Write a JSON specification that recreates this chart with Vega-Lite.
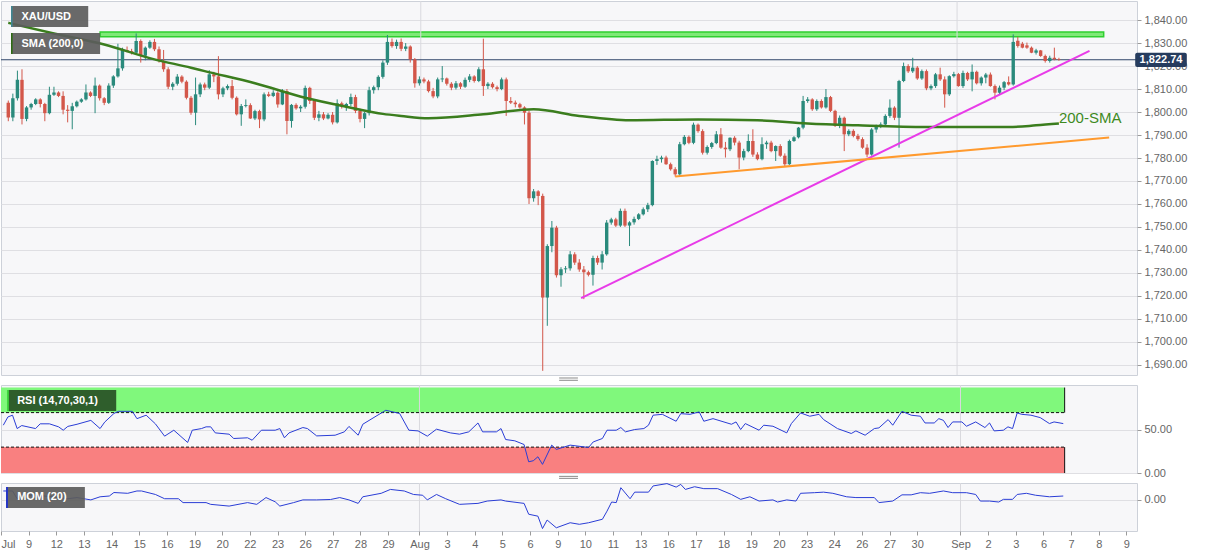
{
"$schema": "https://vega.github.io/schema/vega-lite/v6.json",
"background": "white",
"padding": 0,
"spacing": 10,
"bounds": "flush",
"config": {
  "font": "Liberation Sans",
  "view": {"fill": "#f7f7f9", "stroke": "#cdd1d9", "strokeWidth": 1},
  "axis": {"labelColor": "#666666", "labelFontSize": 11, "tickColor": "#9a9a9a", "tickSize": 4, "domain": false, "gridColor": "#dfdfe3", "labelPadding": 3}
},
"datasets": {
  "months": [{"k": 90.3, "m": "Aug"}, {"k": 207.7, "m": "Sep"}],
  "last": [{"price": 1822.74}],
  "zone": [{"from": 20.1, "to": 239.8, "top": 1834.8, "bottom": 1832.7}],
  "trend": [
    {"line": "steep", "k": 125.4, "p": 1719},
    {"line": "steep", "k": 236.7, "p": 1826.6},
    {"line": "gentle", "k": 146, "p": 1772},
    {"line": "gentle", "k": 241, "p": 1788.9}
  ],
  "sma": [
    {"k":0,"s":1838.8},{"k":10,"s":1834.2},{"k":21,"s":1829.4},{"k":32,"s":1822.9},{"k":40,"s":1819.3},{"k":43,"s":1817.8},{"k":54,"s":1812.5},{"k":65,"s":1806.2},{"k":75,"s":1801.9},{"k":82,"s":1799.2},{"k":86,"s":1798.3},{"k":92,"s":1797.3},{"k":104,"s":1799},{"k":115,"s":1801.2},{"k":125,"s":1798.3},{"k":136,"s":1796.4},{"k":151,"s":1796.8},{"k":164,"s":1796.4},{"k":175,"s":1795},{"k":186,"s":1794.2},{"k":201,"s":1793.5},{"k":219,"s":1793.5},{"k":225,"s":1794.2},{"k":230,"s":1795}
  ],
  "rsi": [
    {"k":0,"v":55.4},{"k":1,"v":65},{"k":2,"v":67},{"k":3,"v":51.5},{"k":4,"v":55},{"k":7,"v":51.5},{"k":8,"v":57},{"k":10,"v":57},{"k":12,"v":53.5},{"k":13,"v":49.6},{"k":14,"v":54},{"k":16,"v":56.5},{"k":19,"v":61},{"k":21,"v":51.5},{"k":22,"v":59},{"k":24,"v":69},{"k":25,"v":71.5},{"k":28,"v":71.5},{"k":29,"v":63},{"k":31,"v":67},{"k":33,"v":57},{"k":35,"v":42.7},{"k":37,"v":49.6},{"k":40,"v":35.4},{"k":41,"v":49.6},{"k":43,"v":51.5},{"k":44,"v":53.5},{"k":45,"v":53.5},{"k":46,"v":46.5},{"k":49,"v":45},{"k":50,"v":40},{"k":53,"v":40.8},{"k":54,"v":38},{"k":56,"v":49.6},{"k":59,"v":49.6},{"k":60,"v":51.5},{"k":61,"v":40.8},{"k":62,"v":46.5},{"k":65,"v":52.7},{"k":66,"v":51.5},{"k":68,"v":43},{"k":72,"v":43.8},{"k":74,"v":47.7},{"k":75,"v":54},{"k":77,"v":43.8},{"k":78,"v":56.5},{"k":80,"v":63},{"k":83,"v":72.7},{"k":86,"v":69},{"k":88,"v":49.6},{"k":90,"v":48.8},{"k":92,"v":42.7},{"k":94,"v":50.8},{"k":97,"v":46.5},{"k":99,"v":45},{"k":101,"v":47.7},{"k":103,"v":58},{"k":104,"v":47.7},{"k":107,"v":47.7},{"k":108,"v":51.5},{"k":109,"v":38.8},{"k":111,"v":37.3},{"k":113,"v":33},{"k":114,"v":13},{"k":115,"v":14.2},{"k":116,"v":18.8},{"k":117,"v":10},{"k":119,"v":32.3},{"k":120,"v":27.3},{"k":123,"v":32.3},{"k":127,"v":29.6},{"k":128,"v":36},{"k":130,"v":40},{"k":131,"v":49.6},{"k":133,"v":49.6},{"k":134,"v":52.7},{"k":135,"v":47.7},{"k":137,"v":50.4},{"k":139,"v":51.5},{"k":140,"v":55.4},{"k":141,"v":67},{"k":143,"v":68},{"k":146,"v":60},{"k":147,"v":68.8},{"k":149,"v":68},{"k":151,"v":70.8},{"k":152,"v":60},{"k":154,"v":63},{"k":158,"v":56.5},{"k":159,"v":59.2},{"k":160,"v":50.4},{"k":161,"v":57.3},{"k":164,"v":49.6},{"k":165,"v":55.4},{"k":167,"v":54.2},{"k":170,"v":46.5},{"k":171,"v":57.3},{"k":173,"v":69.6},{"k":175,"v":65.8},{"k":177,"v":68},{"k":178,"v":61.9},{"k":181,"v":51.5},{"k":184,"v":45.8},{"k":185,"v":48.8},{"k":187,"v":43.8},{"k":189,"v":51.5},{"k":190,"v":52.3},{"k":192,"v":61.9},{"k":193,"v":55.4},{"k":195,"v":71.5},{"k":197,"v":67},{"k":199,"v":65.8},{"k":200,"v":58},{"k":202,"v":58},{"k":203,"v":63},{"k":204,"v":61},{"k":205,"v":52.7},{"k":206,"v":59.2},{"k":208,"v":59.2},{"k":209,"v":54.2},{"k":211,"v":59.2},{"k":213,"v":52.7},{"k":214,"v":58},{"k":215,"v":48.8},{"k":217,"v":49.6},{"k":218,"v":53.5},{"k":219,"v":51.5},{"k":220,"v":69.6},{"k":221,"v":68},{"k":223,"v":67},{"k":225,"v":64.2},{"k":227,"v":57.3},{"k":228,"v":59.2},{"k":230,"v":57.3}
  ],
  "mom": [
    {"k":0,"v":22},{"k":2,"v":22},{"k":3,"v":2},{"k":4,"v":13},{"k":9,"v":9},{"k":14,"v":2},{"k":16,"v":5},{"k":19,"v":-1},{"k":21,"v":7},{"k":23,"v":9},{"k":24,"v":18},{"k":27,"v":16},{"k":29,"v":22},{"k":30,"v":22},{"k":33,"v":13},{"k":35,"v":2},{"k":38,"v":2},{"k":39,"v":-8},{"k":44,"v":-8},{"k":45,"v":-12.5},{"k":49,"v":-17},{"k":53,"v":-8},{"k":55,"v":-12.5},{"k":57,"v":5},{"k":59,"v":-6},{"k":60,"v":-17},{"k":63,"v":-8},{"k":65,"v":-1},{"k":68,"v":-1},{"k":71,"v":0},{"k":73,"v":5},{"k":75,"v":-1},{"k":77,"v":-10},{"k":78,"v":7},{"k":82,"v":16},{"k":84,"v":26},{"k":87,"v":22},{"k":89,"v":13},{"k":91,"v":11},{"k":92,"v":-1},{"k":94,"v":13},{"k":96,"v":2},{"k":99,"v":-12.5},{"k":103,"v":-10},{"k":105,"v":-4},{"k":108,"v":-1},{"k":109,"v":-4},{"k":113,"v":-10},{"k":114,"v":-38},{"k":116,"v":-43},{"k":117,"v":-75},{"k":118,"v":-53},{"k":120,"v":-73},{"k":123,"v":-60},{"k":125,"v":-64},{"k":127,"v":-60},{"k":130,"v":-51},{"k":131,"v":-30},{"k":132,"v":-6.5},{"k":133,"v":-8},{"k":134,"v":30.5},{"k":136,"v":2},{"k":137,"v":19},{"k":140,"v":19},{"k":141,"v":35},{"k":144,"v":41},{"k":146,"v":32},{"k":147,"v":39},{"k":148,"v":26},{"k":150,"v":33},{"k":152,"v":28},{"k":155,"v":28},{"k":158,"v":13},{"k":160,"v":0.4},{"k":162,"v":7},{"k":164,"v":-4},{"k":167,"v":-1},{"k":168,"v":-6.5},{"k":170,"v":-1},{"k":172,"v":-4},{"k":173,"v":16},{"k":176,"v":17.6},{"k":178,"v":19},{"k":180,"v":16},{"k":183,"v":7},{"k":185,"v":5},{"k":189,"v":5},{"k":190,"v":-8},{"k":193,"v":-4},{"k":195,"v":12},{"k":197,"v":12},{"k":199,"v":17.6},{"k":201,"v":16},{"k":204,"v":22},{"k":206,"v":17.6},{"k":209,"v":17.6},{"k":211,"v":13},{"k":212,"v":-4},{"k":214,"v":-4},{"k":216,"v":-6.5},{"k":217,"v":0.4},{"k":219,"v":0.4},{"k":220,"v":13},{"k":222,"v":16},{"k":224,"v":11},{"k":227,"v":7},{"k":230,"v":9}
  ],
  "candles": [
    {"k":0,"o":1804,"h":1805,"l":1796,"c":1797.6},{"k":1,"o":1797.6,"h":1808,"l":1796,"c":1806},{"k":2,"o":1806,"h":1818,"l":1805,"c":1814},{"k":3,"o":1814,"h":1818.6,"l":1794.6,"c":1797},{"k":4,"o":1797,"h":1802.6,"l":1796,"c":1802},{"k":5,"o":1802,"h":1804,"l":1801,"c":1803.5},{"k":6,"o":1803.5,"h":1806,"l":1803,"c":1805.5},{"k":7,"o":1805.5,"h":1806,"l":1802,"c":1803.5},{"k":8,"o":1803.5,"h":1804,"l":1796,"c":1799.5},{"k":9,"o":1799.5,"h":1811,"l":1799,"c":1807.5},
    {"k":10,"o":1807.5,"h":1811,"l":1807,"c":1808.5},{"k":11,"o":1808.5,"h":1809,"l":1806.5,"c":1807},{"k":12,"o":1807,"h":1809,"l":1799,"c":1801},{"k":13,"o":1801,"h":1803,"l":1795.5,"c":1800.5},{"k":14,"o":1800.5,"h":1804,"l":1792.5,"c":1802.5},{"k":15,"o":1802.5,"h":1805,"l":1802,"c":1804.5},{"k":16,"o":1804.5,"h":1806,"l":1804,"c":1805.5},{"k":17,"o":1805.5,"h":1812,"l":1805,"c":1808.5},{"k":18,"o":1808.5,"h":1809,"l":1806.5,"c":1807},{"k":19,"o":1807,"h":1815,"l":1799.5,"c":1811.5},
    {"k":20,"o":1811.5,"h":1812,"l":1805,"c":1806},{"k":21,"o":1806,"h":1806.5,"l":1803,"c":1804},{"k":22,"o":1804,"h":1812.5,"l":1803.5,"c":1811.5},{"k":23,"o":1811.5,"h":1816,"l":1810.5,"c":1815.5},{"k":24,"o":1815.5,"h":1829.7,"l":1815,"c":1819},{"k":25,"o":1819,"h":1828,"l":1818,"c":1827},{"k":26,"o":1827,"h":1828.5,"l":1826,"c":1826.5},{"k":27,"o":1826.5,"h":1827.5,"l":1825,"c":1825.8},{"k":28,"o":1825.8,"h":1834.2,"l":1825,"c":1830.9},{"k":29,"o":1830.9,"h":1831.6,"l":1821.5,"c":1824.5},
    {"k":30,"o":1824.5,"h":1828.5,"l":1822.5,"c":1828},{"k":31,"o":1828,"h":1831.2,"l":1827.5,"c":1830.5},{"k":32,"o":1830.5,"h":1831.8,"l":1826.5,"c":1827.3},{"k":33,"o":1827.3,"h":1828.5,"l":1821.5,"c":1822.2},{"k":34,"o":1822.2,"h":1827,"l":1817.5,"c":1818.6},{"k":35,"o":1818.6,"h":1819.5,"l":1810,"c":1811},{"k":36,"o":1811,"h":1813,"l":1809.5,"c":1812.3},{"k":37,"o":1812.3,"h":1816.5,"l":1811.5,"c":1815.4},{"k":38,"o":1815.4,"h":1816,"l":1812.5,"c":1813.2},{"k":39,"o":1813.2,"h":1813.8,"l":1805.5,"c":1806.2},
    {"k":40,"o":1806.2,"h":1807,"l":1798.8,"c":1799.7},{"k":41,"o":1799.7,"h":1815,"l":1794.3,"c":1807.7},{"k":42,"o":1807.7,"h":1812.8,"l":1806.5,"c":1812},{"k":43,"o":1812,"h":1812.8,"l":1809.5,"c":1810.6},{"k":44,"o":1810.6,"h":1818.2,"l":1810,"c":1816.4},{"k":45,"o":1816.4,"h":1817.5,"l":1813,"c":1815.5},{"k":46,"o":1815.5,"h":1824.3,"l":1805.5,"c":1807.7},{"k":47,"o":1807.7,"h":1811,"l":1806.5,"c":1810.3},{"k":48,"o":1810.3,"h":1812,"l":1809.5,"c":1811.3},{"k":49,"o":1811.3,"h":1814,"l":1805.5,"c":1806.2},
    {"k":50,"o":1806.2,"h":1806.8,"l":1798.5,"c":1799},{"k":51,"o":1799,"h":1803.5,"l":1794,"c":1802.6},{"k":52,"o":1802.6,"h":1805.5,"l":1802,"c":1803},{"k":53,"o":1803,"h":1803.8,"l":1797,"c":1797.2},{"k":54,"o":1797.2,"h":1801,"l":1796.5,"c":1800.4},{"k":55,"o":1800.4,"h":1801,"l":1793,"c":1796.8},{"k":56,"o":1796.8,"h":1808.5,"l":1796,"c":1807.7},{"k":57,"o":1807.7,"h":1808.8,"l":1806.5,"c":1807},{"k":58,"o":1807,"h":1809.5,"l":1806.5,"c":1808.4},{"k":59,"o":1808.4,"h":1809,"l":1801.9,"c":1803.3},
    {"k":60,"o":1803.3,"h":1810,"l":1803,"c":1809.1},{"k":61,"o":1809.1,"h":1810,"l":1790.3,"c":1796.1},{"k":62,"o":1796.1,"h":1803.5,"l":1793.2,"c":1803.1},{"k":63,"o":1803.1,"h":1803.8,"l":1801,"c":1801.6},{"k":64,"o":1801.6,"h":1803,"l":1800,"c":1802.3},{"k":65,"o":1802.3,"h":1811.5,"l":1801.5,"c":1810.5},{"k":66,"o":1810.5,"h":1811,"l":1803.5,"c":1804.8},{"k":67,"o":1804.8,"h":1805.5,"l":1796.5,"c":1797.5},{"k":68,"o":1797.5,"h":1800.5,"l":1796,"c":1799},{"k":69,"o":1799,"h":1800,"l":1796.5,"c":1797.2},
    {"k":70,"o":1797.2,"h":1799.5,"l":1796.8,"c":1798.8},{"k":71,"o":1798.8,"h":1800,"l":1794.6,"c":1795.5},{"k":72,"o":1795.5,"h":1805.5,"l":1795,"c":1803.8},{"k":73,"o":1803.8,"h":1804.5,"l":1801.5,"c":1802.5},{"k":74,"o":1802.5,"h":1804,"l":1800.5,"c":1803.5},{"k":75,"o":1803.5,"h":1808,"l":1802.5,"c":1806.5},{"k":76,"o":1806.5,"h":1807.5,"l":1799.5,"c":1800.5},{"k":77,"o":1800.5,"h":1801.5,"l":1795.5,"c":1797},{"k":78,"o":1797,"h":1800,"l":1793,"c":1799.5},{"k":79,"o":1799.5,"h":1811,"l":1798.5,"c":1809.5},
    {"k":80,"o":1809.5,"h":1811.5,"l":1808,"c":1810.8},{"k":81,"o":1810.8,"h":1816,"l":1809.5,"c":1815.3},{"k":82,"o":1815.3,"h":1822.5,"l":1814.5,"c":1821.5},{"k":83,"o":1821.5,"h":1833.5,"l":1820.5,"c":1830.5},{"k":84,"o":1830.5,"h":1832,"l":1828,"c":1828.7},{"k":85,"o":1828.7,"h":1831.5,"l":1827.5,"c":1830.5},{"k":86,"o":1830.5,"h":1832,"l":1826.5,"c":1827.5},{"k":87,"o":1827.5,"h":1830,"l":1826.5,"c":1828.5},{"k":88,"o":1828.5,"h":1829,"l":1821.5,"c":1822.9},{"k":89,"o":1822.9,"h":1823.5,"l":1810.6,"c":1812.5},
    {"k":90,"o":1812.5,"h":1815.5,"l":1811.5,"c":1814.2},{"k":91,"o":1814.2,"h":1815,"l":1812.5,"c":1813.3},{"k":92,"o":1813.3,"h":1814,"l":1808.5,"c":1809.1},{"k":93,"o":1809.1,"h":1810.5,"l":1806,"c":1806.8},{"k":94,"o":1806.8,"h":1815,"l":1806,"c":1814.2},{"k":95,"o":1814.2,"h":1820,"l":1813,"c":1814.6},{"k":96,"o":1814.6,"h":1815,"l":1811.5,"c":1812.3},{"k":97,"o":1812.3,"h":1813,"l":1809.5,"c":1810.6},{"k":98,"o":1810.6,"h":1813.5,"l":1809.8,"c":1812.5},{"k":99,"o":1812.5,"h":1813,"l":1810,"c":1811},
    {"k":100,"o":1811,"h":1815,"l":1810.5,"c":1814},{"k":101,"o":1814,"h":1816.5,"l":1813,"c":1815.5},{"k":102,"o":1815.5,"h":1816,"l":1812.8,"c":1813.5},{"k":103,"o":1813.5,"h":1819.5,"l":1813,"c":1818.6},{"k":104,"o":1818.6,"h":1831.9,"l":1807,"c":1811.3},{"k":105,"o":1811.3,"h":1813,"l":1810,"c":1812.3},{"k":106,"o":1812.3,"h":1813,"l":1810.2,"c":1810.8},{"k":107,"o":1810.8,"h":1811.5,"l":1809,"c":1810},{"k":108,"o":1810,"h":1815,"l":1809.5,"c":1814.2},{"k":109,"o":1814.2,"h":1815,"l":1798.3,"c":1804.8},
    {"k":110,"o":1804.8,"h":1806.5,"l":1803.5,"c":1804.1},{"k":111,"o":1804.1,"h":1805,"l":1802,"c":1803.4},{"k":112,"o":1803.4,"h":1804,"l":1801.5,"c":1802},{"k":113,"o":1802,"h":1802.5,"l":1794.6,"c":1799.7},{"k":114,"o":1799.7,"h":1800.5,"l":1760,"c":1762.5},{"k":115,"o":1762.5,"h":1766.5,"l":1761,"c":1765.5},{"k":116,"o":1765.5,"h":1766,"l":1759.5,"c":1763.5},{"k":117,"o":1763.5,"h":1764.5,"l":1687.4,"c":1719.3},{"k":118,"o":1719.3,"h":1742.5,"l":1707,"c":1741.7},{"k":119,"o":1741.7,"h":1752.6,"l":1739,"c":1749.7},
    {"k":120,"o":1749.7,"h":1750.5,"l":1728,"c":1729},{"k":121,"o":1729,"h":1732.5,"l":1724,"c":1731.6},{"k":122,"o":1731.6,"h":1733,"l":1730,"c":1732},{"k":123,"o":1732,"h":1739.5,"l":1731,"c":1738.1},{"k":124,"o":1738.1,"h":1739,"l":1733.5,"c":1734.5},{"k":125,"o":1734.5,"h":1736,"l":1730.5,"c":1731.5},{"k":126,"o":1731.5,"h":1733,"l":1718.6,"c":1730.3},{"k":127,"o":1730.3,"h":1731,"l":1728.5,"c":1729.2},{"k":128,"o":1729.2,"h":1737.5,"l":1724.5,"c":1736.5},{"k":129,"o":1736.5,"h":1737.5,"l":1733.5,"c":1734.5},
    {"k":130,"o":1734.5,"h":1739.5,"l":1731.5,"c":1738.1},{"k":131,"o":1738.1,"h":1753,"l":1737.5,"c":1751.9},{"k":132,"o":1751.9,"h":1754,"l":1751,"c":1753.3},{"k":133,"o":1753.3,"h":1754,"l":1750,"c":1750.6},{"k":134,"o":1750.6,"h":1758,"l":1750,"c":1757},{"k":135,"o":1757,"h":1758,"l":1750,"c":1750.6},{"k":136,"o":1750.6,"h":1752.5,"l":1741.7,"c":1752},{"k":137,"o":1752,"h":1754.5,"l":1751,"c":1753.5},{"k":138,"o":1753.5,"h":1756,"l":1753,"c":1755.5},{"k":139,"o":1755.5,"h":1758.5,"l":1755,"c":1757.7},
    {"k":140,"o":1757.7,"h":1760.5,"l":1756.5,"c":1759.5},{"k":141,"o":1759.5,"h":1779,"l":1759,"c":1778.7},{"k":142,"o":1778.7,"h":1781,"l":1777,"c":1779.5},{"k":143,"o":1779.5,"h":1781,"l":1778,"c":1780.2},{"k":144,"o":1780.2,"h":1781,"l":1777,"c":1777.3},{"k":145,"o":1777.3,"h":1778,"l":1774.5,"c":1775.1},{"k":146,"o":1775.1,"h":1776,"l":1771.9,"c":1772.9},{"k":147,"o":1772.9,"h":1787,"l":1772,"c":1786},{"k":148,"o":1786,"h":1790,"l":1785.5,"c":1789.2},{"k":149,"o":1789.2,"h":1789.8,"l":1786,"c":1786.6},
    {"k":150,"o":1786.6,"h":1795.4,"l":1786,"c":1794.5},{"k":151,"o":1794.5,"h":1795,"l":1791,"c":1791.7},{"k":152,"o":1791.7,"h":1792.5,"l":1781.5,"c":1782.3},{"k":153,"o":1782.3,"h":1785.5,"l":1781.5,"c":1784.8},{"k":154,"o":1784.8,"h":1787,"l":1784,"c":1786.5},{"k":155,"o":1786.5,"h":1791.7,"l":1786,"c":1790.3},{"k":156,"o":1790.3,"h":1793,"l":1784,"c":1784.5},{"k":157,"o":1784.5,"h":1787,"l":1780.2,"c":1783.8},{"k":158,"o":1783.8,"h":1789,"l":1783,"c":1788.8},{"k":159,"o":1788.8,"h":1789.5,"l":1785.5,"c":1786.7},
    {"k":160,"o":1786.7,"h":1787.5,"l":1775.1,"c":1780.2},{"k":161,"o":1780.2,"h":1784,"l":1779,"c":1783},{"k":162,"o":1783,"h":1790.3,"l":1782.5,"c":1787.4},{"k":163,"o":1787.4,"h":1792.5,"l":1780.5,"c":1781.5},{"k":164,"o":1781.5,"h":1782.5,"l":1779,"c":1779.5},{"k":165,"o":1779.5,"h":1789,"l":1779,"c":1786},{"k":166,"o":1786,"h":1787.5,"l":1784,"c":1786.7},{"k":167,"o":1786.7,"h":1787.5,"l":1782.5,"c":1783},{"k":168,"o":1783,"h":1785.5,"l":1778.7,"c":1785.2},{"k":169,"o":1785.2,"h":1786,"l":1780.5,"c":1781},
    {"k":170,"o":1781,"h":1782,"l":1776.2,"c":1777.3},{"k":171,"o":1777.3,"h":1788,"l":1777,"c":1787.4},{"k":172,"o":1787.4,"h":1789.5,"l":1787,"c":1789},{"k":173,"o":1789,"h":1793.5,"l":1788.5,"c":1793.2},{"k":174,"o":1793.2,"h":1807,"l":1792.5,"c":1804.8},{"k":175,"o":1804.8,"h":1806.5,"l":1804,"c":1805.5},{"k":176,"o":1805.5,"h":1806,"l":1800.5,"c":1801.2},{"k":177,"o":1801.2,"h":1805.5,"l":1800.5,"c":1804.8},{"k":178,"o":1804.8,"h":1805.5,"l":1801.5,"c":1802},{"k":179,"o":1802,"h":1810,"l":1801.5,"c":1806.5},
    {"k":180,"o":1806.5,"h":1807,"l":1800,"c":1800.5},{"k":181,"o":1800.5,"h":1801,"l":1793.5,"c":1794},{"k":182,"o":1794,"h":1798.5,"l":1793,"c":1797.5},{"k":183,"o":1797.5,"h":1798,"l":1783,"c":1790.3},{"k":184,"o":1790.3,"h":1792.5,"l":1789.5,"c":1791.8},{"k":185,"o":1791.8,"h":1792.5,"l":1789,"c":1789.6},{"k":186,"o":1789.6,"h":1790.5,"l":1787.5,"c":1788.2},{"k":187,"o":1788.2,"h":1789,"l":1784,"c":1784.5},{"k":188,"o":1784.5,"h":1786,"l":1780.3,"c":1781.5},{"k":189,"o":1781.5,"h":1793,"l":1781,"c":1792.4},
    {"k":190,"o":1792.4,"h":1794.5,"l":1791,"c":1793.9},{"k":191,"o":1793.9,"h":1795.5,"l":1793,"c":1794.6},{"k":192,"o":1794.6,"h":1799,"l":1794,"c":1798.3},{"k":193,"o":1798.3,"h":1805.5,"l":1797.5,"c":1801.9},{"k":194,"o":1801.9,"h":1802.5,"l":1796.5,"c":1797.5},{"k":195,"o":1797.5,"h":1814,"l":1784.5,"c":1813.5},{"k":196,"o":1813.5,"h":1821.5,"l":1813,"c":1820},{"k":197,"o":1820,"h":1820.8,"l":1817,"c":1817.7},{"k":198,"o":1817.7,"h":1823.6,"l":1817,"c":1819.3},{"k":199,"o":1819.3,"h":1820,"l":1814,"c":1814.6},
    {"k":200,"o":1814.6,"h":1818.5,"l":1814,"c":1817.8},{"k":201,"o":1817.8,"h":1818.5,"l":1809.5,"c":1810.3},{"k":202,"o":1810.3,"h":1812,"l":1809.5,"c":1811.3},{"k":203,"o":1811.3,"h":1817,"l":1810.5,"c":1816.4},{"k":204,"o":1816.4,"h":1819.3,"l":1813.5,"c":1814.2},{"k":205,"o":1814.2,"h":1815.5,"l":1801.9,"c":1807.7},{"k":206,"o":1807.7,"h":1816,"l":1807,"c":1815.6},{"k":207,"o":1815.6,"h":1817.5,"l":1815,"c":1816.5},{"k":208,"o":1816.5,"h":1817,"l":1811,"c":1811.3},{"k":209,"o":1811.3,"h":1818,"l":1810.5,"c":1817},
    {"k":210,"o":1817,"h":1817.5,"l":1813.5,"c":1814.2},{"k":211,"o":1814.2,"h":1820.7,"l":1809,"c":1817.5},{"k":212,"o":1817.5,"h":1818,"l":1812,"c":1812.5},{"k":213,"o":1812.5,"h":1815.5,"l":1811.5,"c":1815},{"k":214,"o":1815,"h":1817,"l":1812.5,"c":1816.3},{"k":215,"o":1816.3,"h":1817.2,"l":1811,"c":1811.3},{"k":216,"o":1811.3,"h":1812,"l":1805.5,"c":1808.4},{"k":217,"o":1808.4,"h":1811.5,"l":1807.5,"c":1810.6},{"k":218,"o":1810.6,"h":1813.5,"l":1809.5,"c":1813},{"k":219,"o":1813,"h":1815.5,"l":1811.5,"c":1812},
    {"k":220,"o":1812,"h":1833.8,"l":1811.5,"c":1830.5},{"k":221,"o":1831,"h":1832.7,"l":1828,"c":1828.7},{"k":222,"o":1829.7,"h":1830.5,"l":1827.7,"c":1828},{"k":223,"o":1829,"h":1830.2,"l":1827.5,"c":1828},{"k":224,"o":1828,"h":1828.5,"l":1825.6,"c":1825.8},{"k":225,"o":1825.8,"h":1827.5,"l":1825,"c":1826.8},{"k":226,"o":1826.8,"h":1827,"l":1824,"c":1824.4},{"k":227,"o":1824.4,"h":1825,"l":1821.5,"c":1822.2},{"k":228,"o":1822.2,"h":1824.5,"l":1821.5,"c":1823.6},{"k":229,"o":1823.6,"h":1828,"l":1822.5,"c":1823},
    {"k":230,"o":1823,"h":1823.6,"l":1822.3,"c":1822.74}
  ]
},
"vconcat": [
  {
    "width": 1136, "height": 374,
    "layer": [
      {"data": {"name": "zone"}, "mark": {"type": "rect", "fill": "#7fe977", "stroke": "#2fcf2f", "strokeWidth": 1.5},
       "encoding": {"x": {"field": "from", "type": "quantitative", "scale": {"domain": [-0.5, 246]}, "axis": null}, "x2": {"field": "to"},
                    "y": {"field": "top", "type": "quantitative", "scale": {"domain": [1685.6, 1848.3]},
                          "axis": {"orient": "right", "title": null, "values": [1690,1700,1710,1720,1730,1740,1750,1760,1770,1780,1790,1800,1810,1820,1830,1840], "tickCount": 100, "labelOverlap": false, "format": ",.2f", "grid": true}},
                    "y2": {"field": "bottom"}}},
      {"data": {"name": "months"}, "mark": {"type": "rule", "color": "#d9d9de", "strokeWidth": 1},
       "encoding": {"x": {"field": "k", "type": "quantitative", "scale": {"domain": [-0.5, 246]}, "axis": null}}},
      {"data": {"name": "last"}, "mark": {"type": "rule", "color": "#2f4568", "strokeWidth": 1},
       "encoding": {"y": {"field": "price", "type": "quantitative", "scale": {"domain": [1685.6, 1848.3]}, "title": null}}},
      {"data": {"name": "candles"}, "mark": {"type": "rule", "strokeWidth": 1},
       "encoding": {"x": {"field": "k", "type": "quantitative", "scale": {"domain": [-0.5, 246]}, "axis": null},
                    "y": {"field": "l", "type": "quantitative", "scale": {"domain": [1685.6, 1848.3]}, "title": null},
                    "y2": {"field": "h"},
                    "color": {"condition": {"test": "datum.c >= datum.o", "value": "#2a8a7c"}, "value": "#d3574a"}}},
      {"data": {"name": "candles"}, "mark": {"type": "bar", "width": 3.4},
       "encoding": {"x": {"field": "k", "type": "quantitative", "scale": {"domain": [-0.5, 246]}, "axis": null},
                    "y": {"field": "o", "type": "quantitative", "scale": {"domain": [1685.6, 1848.3]}, "title": null},
                    "y2": {"field": "c"},
                    "color": {"condition": {"test": "datum.c >= datum.o", "value": "#2a8a7c"}, "value": "#d3574a"}}},
      {"data": {"name": "sma"}, "mark": {"type": "line", "color": "#3b7d1e", "strokeWidth": 2.5, "interpolate": "monotone"},
       "encoding": {"x": {"field": "k", "type": "quantitative", "scale": {"domain": [-0.5, 246]}, "axis": null},
                    "y": {"field": "s", "type": "quantitative", "scale": {"domain": [1685.6, 1848.3]}, "title": null}}},
      {"data": {"name": "trend"}, "mark": {"type": "line", "strokeWidth": 2},
       "encoding": {"x": {"field": "k", "type": "quantitative", "scale": {"domain": [-0.5, 246]}, "axis": null},
                    "y": {"field": "p", "type": "quantitative", "scale": {"domain": [1685.6, 1848.3]}, "title": null},
                    "color": {"field": "line", "type": "nominal", "scale": {"domain": ["steep", "gentle"], "range": ["#e83be8", "#ff9a2e"]}, "legend": null}}},
      {"data": {"values": [{}]}, "mark": {"type": "text", "color": "#3e8a1e", "fontSize": 15, "align": "left", "baseline": "middle"},
       "encoding": {"x": {"datum": 230, "type": "quantitative", "scale": {"domain": [-0.5, 246]}, "axis": null},
                    "y": {"datum": 1797.2, "type": "quantitative", "scale": {"domain": [1685.6, 1848.3]}, "title": null},
                    "text": {"value": "200-SMA"}}},
      {"data": {"values": [{}]}, "mark": {"type": "rect", "fill": "#5c5c5c", "opacity": 0.92},
       "encoding": {"x": {"datum": 0.6, "type": "quantitative", "scale": {"domain": [-0.5, 246]}, "axis": null}, "x2": {"datum": 17.5},
                    "y": {"datum": 1846.1, "type": "quantitative", "scale": {"domain": [1685.6, 1848.3]}, "title": null}, "y2": {"datum": 1837}}},
      {"data": {"values": [{}]}, "mark": {"type": "rect", "fill": "#3f8793"},
       "encoding": {"x": {"datum": 0.6, "type": "quantitative", "scale": {"domain": [-0.5, 246]}, "axis": null}, "x2": {"datum": 0.95},
                    "y": {"datum": 1846.1, "type": "quantitative", "scale": {"domain": [1685.6, 1848.3]}, "title": null}, "y2": {"datum": 1837}}},
      {"data": {"values": [{}]}, "mark": {"type": "text", "color": "white", "fontSize": 11, "fontWeight": "bold", "align": "left", "baseline": "middle"},
       "encoding": {"x": {"datum": 2.9, "type": "quantitative", "scale": {"domain": [-0.5, 246]}, "axis": null},
                    "y": {"datum": 1841.5, "type": "quantitative", "scale": {"domain": [1685.6, 1848.3]}, "title": null},
                    "text": {"value": "XAU/USD"}}},
      {"data": {"values": [{}]}, "mark": {"type": "rect", "fill": "#5c5c5c", "opacity": 0.92},
       "encoding": {"x": {"datum": 0.6, "type": "quantitative", "scale": {"domain": [-0.5, 246]}, "axis": null}, "x2": {"datum": 20.1},
                    "y": {"datum": 1834.35, "type": "quantitative", "scale": {"domain": [1685.6, 1848.3]}, "title": null}, "y2": {"datum": 1825.2}}},
      {"data": {"values": [{}]}, "mark": {"type": "rect", "fill": "#2e6b14"},
       "encoding": {"x": {"datum": 0.6, "type": "quantitative", "scale": {"domain": [-0.5, 246]}, "axis": null}, "x2": {"datum": 0.95},
                    "y": {"datum": 1834.35, "type": "quantitative", "scale": {"domain": [1685.6, 1848.3]}, "title": null}, "y2": {"datum": 1825.2}}},
      {"data": {"values": [{}]}, "mark": {"type": "text", "color": "white", "fontSize": 11, "fontWeight": "bold", "align": "left", "baseline": "middle"},
       "encoding": {"x": {"datum": 2.9, "type": "quantitative", "scale": {"domain": [-0.5, 246]}, "axis": null},
                    "y": {"datum": 1829.8, "type": "quantitative", "scale": {"domain": [1685.6, 1848.3]}, "title": null},
                    "text": {"value": "SMA (200,0)"}}},
      {"data": {"values": [{"ly": 1684.3}, {"ly": 1683.3}]}, "mark": {"type": "rule", "color": "#8a8a8a", "strokeWidth": 1},
       "encoding": {"x": {"datum": 120.6, "type": "quantitative", "scale": {"domain": [-0.5, 246]}, "axis": null}, "x2": {"datum": 124.7},
                    "y": {"field": "ly", "type": "quantitative", "scale": {"domain": [1685.6, 1848.3]}, "title": null}}},
      {"data": {"name": "last"}, "mark": {"type": "rect", "fill": "#263c5e", "cornerRadius": 2},
       "encoding": {"x": {"datum": 246.7, "type": "quantitative", "scale": {"domain": [-0.5, 246]}, "axis": null}, "x2": {"datum": 258},
                    "y": {"datum": 1825.8, "type": "quantitative", "scale": {"domain": [1685.6, 1848.3]}, "title": null}, "y2": {"datum": 1819.6}}},
      {"data": {"name": "last"}, "mark": {"type": "text", "color": "white", "fontSize": 11, "fontWeight": "bold", "align": "center", "baseline": "middle"},
       "encoding": {"x": {"datum": 252.35, "type": "quantitative", "scale": {"domain": [-0.5, 246]}, "axis": null},
                    "y": {"field": "price", "type": "quantitative", "scale": {"domain": [1685.6, 1848.3]}, "title": null},
                    "text": {"field": "price", "type": "quantitative", "format": ",.2f"}}}
    ]
  },
  {
    "width": 1136, "height": 88,
    "layer": [
      {"data": {"values": [{}]}, "mark": {"type": "rect", "fill": "#80f87c"},
       "encoding": {"x": {"datum": -0.5, "type": "quantitative", "scale": {"domain": [-0.5, 246]}, "axis": null}, "x2": {"datum": 230.3},
                    "y": {"datum": 70, "type": "quantitative", "scale": {"domain": [0, 102]},
                          "axis": {"orient": "right", "title": null, "values": [0, 50], "tickCount": 100, "format": ".2f", "grid": true}}, "y2": {"datum": 99}}},
      {"data": {"name": "months"}, "mark": {"type": "rule", "color": "#d9d9de", "strokeWidth": 1},
       "encoding": {"x": {"field": "k", "type": "quantitative", "scale": {"domain": [-0.5, 246]}, "axis": null}}},
      {"data": {"values": [{}]}, "mark": {"type": "rect", "fill": "#f98080"},
       "encoding": {"x": {"datum": -0.5, "type": "quantitative", "scale": {"domain": [-0.5, 246]}, "axis": null}, "x2": {"datum": 230.3},
                    "y": {"datum": 0, "type": "quantitative", "scale": {"domain": [0, 102]}, "title": null}, "y2": {"datum": 30}}},
      {"data": {"values": [{"lvl": 70}, {"lvl": 30}]}, "mark": {"type": "rule", "color": "#111111", "strokeWidth": 1, "strokeDash": [3, 2]},
       "encoding": {"x": {"datum": -0.5, "type": "quantitative", "scale": {"domain": [-0.5, 246]}, "axis": null}, "x2": {"datum": 230.3},
                    "y": {"field": "lvl", "type": "quantitative", "scale": {"domain": [0, 102]}, "title": null}}},
      {"data": {"values": [{"a": 70, "b": 99}, {"a": 0, "b": 30}]}, "mark": {"type": "rule", "color": "#111111", "strokeWidth": 1},
       "encoding": {"x": {"datum": 230.3, "type": "quantitative", "scale": {"domain": [-0.5, 246]}, "axis": null},
                    "y": {"field": "a", "type": "quantitative", "scale": {"domain": [0, 102]}, "title": null}, "y2": {"field": "b"}}},
      {"data": {"name": "rsi"}, "mark": {"type": "line", "color": "#2a3dd6", "strokeWidth": 1},
       "encoding": {"x": {"field": "k", "type": "quantitative", "scale": {"domain": [-0.5, 246]}, "axis": null},
                    "y": {"field": "v", "type": "quantitative", "scale": {"domain": [0, 102]}, "title": null}}},
      {"data": {"values": [{}]}, "mark": {"type": "rect", "fill": "#2f5e2c"},
       "encoding": {"x": {"datum": 0.8, "type": "quantitative", "scale": {"domain": [-0.5, 246]}, "axis": null}, "x2": {"datum": 24.5},
                    "y": {"datum": 96.2, "type": "quantitative", "scale": {"domain": [0, 102]}, "title": null}, "y2": {"datum": 71.9}}},
      {"data": {"values": [{}]}, "mark": {"type": "rect", "fill": "#3fd83f"},
       "encoding": {"x": {"datum": 0.8, "type": "quantitative", "scale": {"domain": [-0.5, 246]}, "axis": null}, "x2": {"datum": 1.2},
                    "y": {"datum": 96.2, "type": "quantitative", "scale": {"domain": [0, 102]}, "title": null}, "y2": {"datum": 71.9}}},
      {"data": {"values": [{}]}, "mark": {"type": "text", "color": "white", "fontSize": 11, "fontWeight": "bold", "align": "left", "baseline": "middle"},
       "encoding": {"x": {"datum": 3.0, "type": "quantitative", "scale": {"domain": [-0.5, 246]}, "axis": null},
                    "y": {"datum": 84, "type": "quantitative", "scale": {"domain": [0, 102]}, "title": null},
                    "text": {"value": "RSI (14,70,30,1)"}}},
      {"data": {"values": [{"ly": -3.9}, {"ly": -6.2}]}, "mark": {"type": "rule", "color": "#8a8a8a", "strokeWidth": 1},
       "encoding": {"x": {"datum": 120.6, "type": "quantitative", "scale": {"domain": [-0.5, 246]}, "axis": null}, "x2": {"datum": 124.7},
                    "y": {"field": "ly", "type": "quantitative", "scale": {"domain": [0, 102]}, "title": null}}}
    ]
  },
  {
    "width": 1136, "height": 48,
    "layer": [
      {"data": {"name": "months"}, "mark": {"type": "rule", "color": "#d9d9de", "strokeWidth": 1},
       "encoding": {"x": {"field": "k", "type": "quantitative", "scale": {"domain": [-0.5, 246]},
                          "axis": {"title": null, "grid": false, "labelOverlap": false, "labelFlush": true, "labelBound": false, "tickCount": 100,
                                   "values": [-0.5,5.5,11.5,17.5,23.5,29.5,35.5,41.5,47.5,53.5,59.5,65.5,71.5,77.5,83.5,90.3,96.3,102.3,108.3,114.3,120.3,126.3,132.3,138.3,144.3,150.3,156.3,162.3,168.3,174.3,180.3,186.3,192.3,198.3,207.7,213.7,219.7,225.7,231.7,237.7,243.7],
                                   "labelExpr": "['Jul','9','12','13','14','15','16','19','20','22','23','26','27','28','29','Aug','3','4','5','6','9','10','11','13','16','17','18','19','20','23','24','26','27','30','Sep','2','3','6','7','8','9'][indexof([-0.5,5.5,11.5,17.5,23.5,29.5,35.5,41.5,47.5,53.5,59.5,65.5,71.5,77.5,83.5,90.3,96.3,102.3,108.3,114.3,120.3,126.3,132.3,138.3,144.3,150.3,156.3,162.3,168.3,174.3,180.3,186.3,192.3,198.3,207.7,213.7,219.7,225.7,231.7,237.7,243.7], datum.value)]"}}}},
      {"data": {"name": "mom"}, "mark": {"type": "line", "color": "#2a3dd6", "strokeWidth": 1},
       "encoding": {"x": {"field": "k", "type": "quantitative", "scale": {"domain": [-0.5, 246]}, "title": null},
                    "y": {"field": "v", "type": "quantitative", "scale": {"domain": [-81.3, 42.6]},
                          "axis": {"orient": "right", "title": null, "values": [0], "tickCount": 100, "format": ".2f", "grid": true}}}},
      {"data": {"values": [{}]}, "mark": {"type": "rect", "fill": "#5c5c5c", "opacity": 0.92},
       "encoding": {"x": {"datum": 0.6, "type": "quantitative", "scale": {"domain": [-0.5, 246]}, "title": null}, "x2": {"datum": 17.7},
                    "y": {"datum": 32.3, "type": "quantitative", "scale": {"domain": [-81.3, 42.6]}, "title": null}, "y2": {"datum": -21.9}}},
      {"data": {"values": [{}]}, "mark": {"type": "rect", "fill": "#2233cc"},
       "encoding": {"x": {"datum": 0.6, "type": "quantitative", "scale": {"domain": [-0.5, 246]}, "title": null}, "x2": {"datum": 1.0},
                    "y": {"datum": 32.3, "type": "quantitative", "scale": {"domain": [-81.3, 42.6]}, "title": null}, "y2": {"datum": -21.9}}},
      {"data": {"values": [{}]}, "mark": {"type": "text", "color": "white", "fontSize": 11, "fontWeight": "bold", "align": "left", "baseline": "middle"},
       "encoding": {"x": {"datum": 3.0, "type": "quantitative", "scale": {"domain": [-0.5, 246]}, "title": null},
                    "y": {"datum": 5.2, "type": "quantitative", "scale": {"domain": [-81.3, 42.6]}, "title": null},
                    "text": {"value": "MOM (20)"}}}
    ]
  }
]
}
